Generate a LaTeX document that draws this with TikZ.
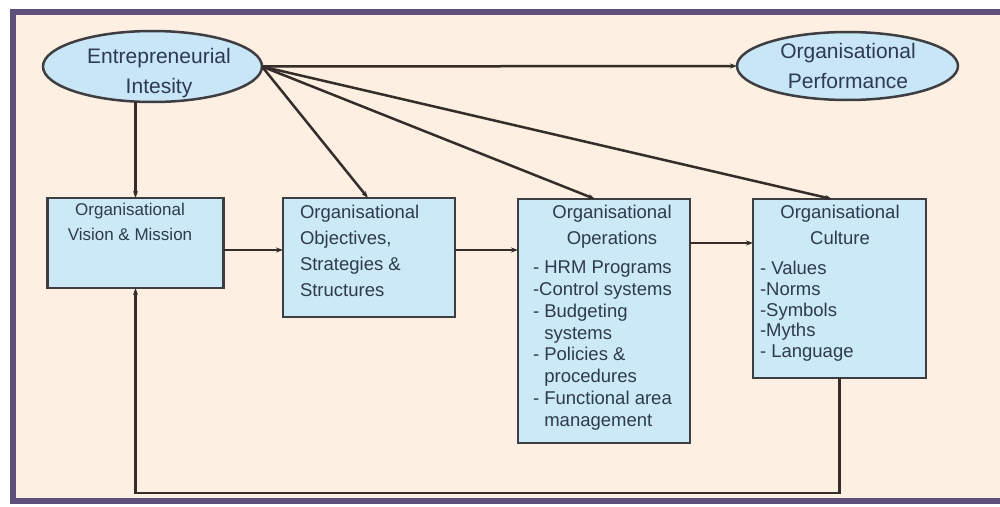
\documentclass[tikz,border=0pt]{standalone}
\usepackage{fontspec}
\setmainfont{Liberation Sans}
\usetikzlibrary{shapes.geometric,arrows.meta,calc}
\definecolor{bg}{RGB}{253,239,225}
\definecolor{frm}{RGB}{94,80,122}
\definecolor{ellfill}{RGB}{200,230,246}
\definecolor{boxfill}{RGB}{204,233,248}
\definecolor{edge}{RGB}{62,62,66}
\definecolor{txt}{RGB}{45,58,80}
\definecolor{ln}{RGB}{52,45,42}
\begin{document}
\begin{tikzpicture}[x=1pt,y=-1pt,
  ell/.style={ellipse,draw=edge,line width=2.5,fill=ellfill,inner sep=0,outer sep=0},
  boxn/.style={rectangle,draw=edge,line width=2.5,fill=boxfill,inner sep=0,outer sep=0},
  lbl/.style={text=txt,inner sep=0,outer sep=0},
  conn/.style={draw=ln,line width=2.5,-{Stealth[length=7pt,width=5pt]}}]
\useasboundingbox (0,0) rectangle (1000,506);
\fill[white] (0,0) rectangle (1000,506);
\fill[bg] (13,12) rectangle (1000,501);
\draw[frm,line width=6] (1000,12) -- (13,12) -- (13,501) -- (1000,501);

% ellipses
\node[ell,minimum width=219,minimum height=71] (E1) at (152.5,66.5) {};
\node[ell,minimum width=221,minimum height=68] (E2) at (847.5,66) {};
\node[lbl,anchor=north,align=center,font=\fontsize{21}{30}\selectfont] (E1t) at (159,48) {Entrepreneurial\\Intesity};
\node[lbl,anchor=north,align=center,font=\fontsize{21}{30}\selectfont] (E2t) at (848,43.5) {Organisational\\Performance};

% boxes
\node[boxn,minimum width=176,minimum height=90] (b1) at (135.5,243) {};
\node[boxn,minimum width=172,minimum height=119] (b2) at (369,257.5) {};
\node[boxn,minimum width=172,minimum height=244] (b3) at (604,321) {};
\node[boxn,minimum width=173,minimum height=179] (b4) at (839.5,288.5) {};

\node[lbl,anchor=north,align=center,font=\fontsize{17}{25}\selectfont] (b1t) at (130,203) {Organisational\\Vision \& Mission};
\node[lbl,anchor=north west,align=left,font=\fontsize{18.5}{26}\selectfont] (b2t) at (300,205) {Organisational\\Objectives,\\Strategies \&\\Structures};
\node[lbl,anchor=north,align=center,font=\fontsize{18.5}{26.5}\selectfont] (b3t) at (612,205) {Organisational\\Operations};
\node[lbl,anchor=north west,align=left,font=\fontsize{18.5}{21.8}\selectfont] (b3i) at (533,261) {- HRM Programs\\-Control systems\\- Budgeting\\\phantom{- }systems\\- Policies \&\\\phantom{- }procedures\\- Functional area\\\phantom{- }management};
\node[lbl,anchor=north,align=center,font=\fontsize{18.5}{26.5}\selectfont] (b4t) at (840,205) {Organisational\\Culture};
\node[lbl,anchor=north west,align=left,font=\fontsize{18.5}{20.8}\selectfont] (b4i) at (760,261) {- Values\\-Norms\\-Symbols\\-Myths\\- Language};

% connectors
\draw[conn] (E1.east) -- (E2.west);
\draw[conn] (E1.east) -- ($(b2.north west)+(85,0)$);
\draw[conn] (E1.east) -- ($(b3.north west)+(77,0)$);
\draw[conn] (E1.east) -- ($(b4.north west)+(79,0)$);
\draw[conn] (b1.north |- E1.south) -- (b1.north);
\coordinate (h1) at ($(b1.north east)+(0,52)$);
\coordinate (h2) at ($(b2.north east)+(0,52)$);
\coordinate (h3) at ($(b3.north east)+(0,44)$);
\draw[conn] (h1) -- (h1 -| b2.west);
\draw[conn] (h2) -- (h2 -| b3.west);
\draw[conn] (h3) -- (h3 -| b4.west);
\coordinate (fb) at (400,493);
\draw[conn] (b4.south) |- (fb) -| (b1.south);
\end{tikzpicture}
\end{document}
